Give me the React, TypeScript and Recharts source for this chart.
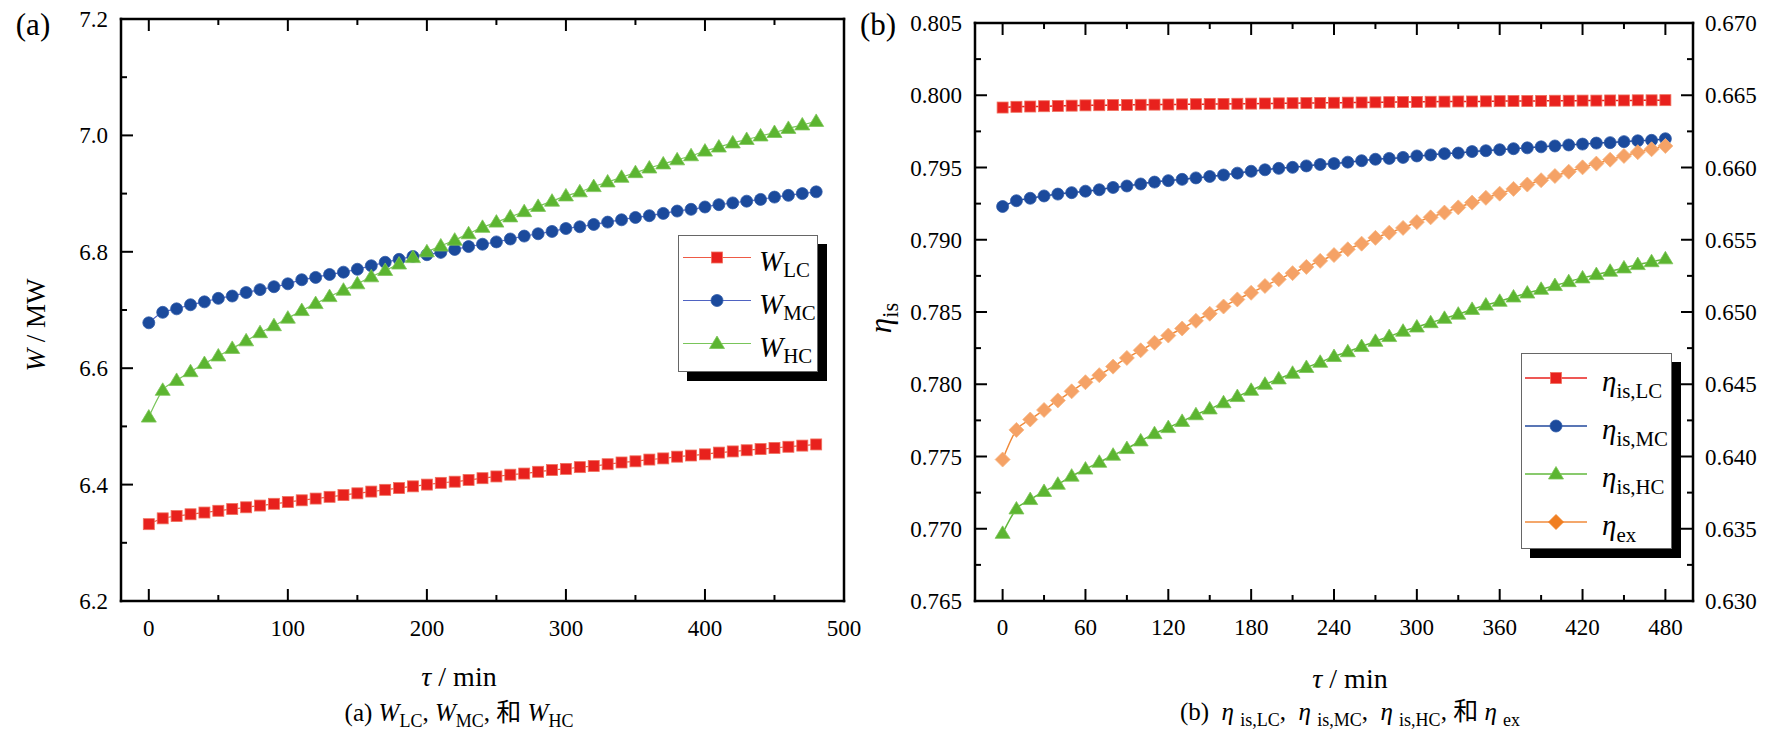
import React from "react";
import { LineChart, Line, XAxis, YAxis, Legend } from "recharts";

// time axis, minutes
const minutes = [
  0, 10, 20, 30, 40, 50, 60, 70, 80, 90, 100, 110, 120, 130, 140, 150, 160,
  170, 180, 190, 200, 210, 220, 230, 240, 250, 260, 270, 280, 290, 300, 310,
  320, 330, 340, 350, 360, 370, 380, 390, 400, 410, 420, 430, 440, 450, 460,
  470, 480,
];

// (a) compressor power, MW
const wLC = [
  6.332, 6.342, 6.346, 6.349, 6.352, 6.355, 6.358, 6.361, 6.364, 6.367, 6.37,
  6.373, 6.376, 6.379, 6.382, 6.385, 6.388, 6.391, 6.394, 6.397, 6.4, 6.403,
  6.405, 6.408, 6.411, 6.414, 6.417, 6.419, 6.422, 6.425, 6.427, 6.43, 6.432,
  6.435, 6.438, 6.44, 6.443, 6.445, 6.448, 6.45, 6.452, 6.455, 6.457, 6.459,
  6.461, 6.463, 6.465, 6.467, 6.469,
];
const wMC = [
  6.678, 6.696, 6.702, 6.709, 6.714, 6.72, 6.724, 6.73, 6.735, 6.74, 6.745,
  6.752, 6.756, 6.761, 6.765, 6.77, 6.776, 6.782, 6.787, 6.792, 6.795, 6.799,
  6.804, 6.809, 6.813, 6.817, 6.822, 6.827, 6.831, 6.835, 6.84, 6.843, 6.847,
  6.851, 6.855, 6.859, 6.862, 6.866, 6.87, 6.873, 6.877, 6.881, 6.884, 6.887,
  6.89, 6.894, 6.897, 6.9, 6.903,
];
const wHC = [
  6.516, 6.562, 6.579, 6.594, 6.608, 6.621, 6.634, 6.647, 6.661, 6.673, 6.686,
  6.699, 6.711, 6.723, 6.734, 6.745, 6.757, 6.768, 6.779, 6.79, 6.8, 6.81,
  6.82, 6.831, 6.842, 6.851, 6.86, 6.869, 6.878, 6.887, 6.896, 6.903, 6.912,
  6.92, 6.928, 6.936, 6.944, 6.951, 6.958, 6.965, 6.973, 6.98, 6.987, 6.993,
  6.999, 7.005, 7.012, 7.018, 7.024,
];

// (b) efficiencies
const etaLC = [
  0.79915, 0.7992, 0.79922, 0.79924, 0.79926, 0.79928, 0.7993, 0.79931,
  0.79932, 0.79933, 0.79934, 0.79935, 0.79936, 0.79937, 0.79938, 0.79939,
  0.7994, 0.79941, 0.79942, 0.79943, 0.79944, 0.79945, 0.79946, 0.79947,
  0.79948, 0.79949, 0.7995, 0.79951, 0.79952, 0.79953, 0.79954, 0.79955,
  0.79956, 0.79957, 0.79957, 0.79958, 0.79959, 0.7996, 0.7996, 0.79961,
  0.79962, 0.79962, 0.79963, 0.79963, 0.79964, 0.79964, 0.79965, 0.79965,
  0.79966,
];
const etaMC = [
  0.7923, 0.7927, 0.79287, 0.79303, 0.79316, 0.79326, 0.79336, 0.79346,
  0.79362, 0.79372, 0.79386, 0.79399, 0.79409, 0.79418, 0.79428, 0.79438,
  0.79448, 0.79461, 0.79474, 0.79484, 0.79494, 0.79501, 0.79511, 0.79521,
  0.79527, 0.79537, 0.79547, 0.79557, 0.79563, 0.7957, 0.7958, 0.79587,
  0.79596, 0.796, 0.7961, 0.79616, 0.79623, 0.7963, 0.79636, 0.79643, 0.79649,
  0.79656, 0.79662, 0.79669, 0.79672, 0.79679, 0.79685, 0.79688, 0.79699,
];
const etaHC = [
  0.76968, 0.77137, 0.77202, 0.77258, 0.77308, 0.77364, 0.77413, 0.7746,
  0.77509, 0.77555, 0.77608, 0.77658, 0.777, 0.77743, 0.77789, 0.77829,
  0.77872, 0.77915, 0.77958, 0.78, 0.78037, 0.78076, 0.78116, 0.78152,
  0.78192, 0.78225, 0.78261, 0.78297, 0.7833, 0.78367, 0.78396, 0.78426,
  0.78456, 0.78485, 0.78518, 0.78548, 0.78574, 0.78604, 0.78631, 0.78657,
  0.78683, 0.7871, 0.78736, 0.78759, 0.78782, 0.78805, 0.78828, 0.78848,
  0.78868,
];
// exergy efficiency, right axis
const etaEx = [
  0.63979, 0.64184, 0.64256, 0.64322, 0.64388, 0.64451, 0.64514, 0.64563,
  0.64622, 0.64682, 0.64735, 0.64787, 0.64837, 0.64886, 0.64939, 0.64988,
  0.65038, 0.65087, 0.65133, 0.6518, 0.65226, 0.65269, 0.65312, 0.65354,
  0.65394, 0.65434, 0.65473, 0.65513, 0.65549, 0.65582, 0.65622, 0.65655,
  0.65688, 0.65724, 0.65757, 0.6579, 0.65819, 0.65852, 0.65882, 0.65912,
  0.65941, 0.65971, 0.66001, 0.66027, 0.66054, 0.6608, 0.66106, 0.66126,
  0.66149,
];

// ticks (all) and labelled ticks
const aXTicks = [0, 50, 100, 150, 200, 250, 300, 350, 400, 450, 500];
const aXLabels = [0, 100, 200, 300, 400, 500];
const aYTicks = [6.2, 6.3, 6.4, 6.5, 6.6, 6.7, 6.8, 6.9, 7.0, 7.1, 7.2];
const aYLabels = [6.2, 6.4, 6.6, 6.8, 7.0, 7.2];
const bXTicks = [
  0, 30, 60, 90, 120, 150, 180, 210, 240, 270, 300, 330, 360, 390, 420, 450,
  480,
];
const bXLabels = [0, 60, 120, 180, 240, 300, 360, 420, 480];
const bYTicks = [
  0.765, 0.7675, 0.77, 0.7725, 0.775, 0.7775, 0.78, 0.7825, 0.785, 0.7875,
  0.79, 0.7925, 0.795, 0.7975, 0.8, 0.8025, 0.805,
];
const bYLabels = [0.765, 0.77, 0.775, 0.78, 0.785, 0.79, 0.795, 0.8, 0.805];
const bY2Ticks = [
  0.63, 0.6325, 0.635, 0.6375, 0.64, 0.6425, 0.645, 0.6475, 0.65, 0.6525,
  0.655, 0.6575, 0.66, 0.6625, 0.665, 0.6675, 0.67,
];
const bY2Labels = [0.63, 0.635, 0.64, 0.645, 0.65, 0.655, 0.66, 0.665, 0.67];

const dataA = minutes.map((t, i) => ({ t, lc: wLC[i], mc: wMC[i], hc: wHC[i] }));
const dataB = minutes.map((t, i) => ({
  t,
  lc: etaLC[i],
  mc: etaMC[i],
  hc: etaHC[i],
  ex: etaEx[i],
}));

const FONT = '"Liberation Serif", "Times New Roman", "Noto Sans CJK SC", serif';
const axisLine = { stroke: "#000", strokeWidth: 2.5, strokeLinecap: "square" as const };
const tickText = { fontFamily: FONT, fontSize: 23, fill: "#000" };

type Side = "bottom" | "top" | "left" | "right";

// tick mark drawn inward from the axis line; long for majors, label only when asked
function makeTick(side: Side, majors: number[], showLabels: boolean, fmt: (v: number) => string, gap: number) {
  return function Tick(props: any) {
    const { x, y, payload } = props;
    const v = payload.value;
    const major = majors.some((m) => Math.abs(m - v) < 1e-9);
    const len = major ? 12 : 6;
    const showText = showLabels && major;
    let line = null;
    let text = null;
    if (side === "bottom") {
      line = <line x1={x} x2={x} y1={y} y2={y - len} />;
      if (showText)
        text = (
          <text x={x} y={y + gap} dy="0.35em" textAnchor="middle" style={tickText}>
            {fmt(v)}
          </text>
        );
    } else if (side === "top") {
      line = <line x1={x} x2={x} y1={y} y2={y + len} />;
    } else if (side === "left") {
      line = <line x1={x} x2={x + len} y1={y} y2={y} />;
      if (showText)
        text = (
          <text x={x - gap} y={y} dy="0.35em" textAnchor="end" style={tickText}>
            {fmt(v)}
          </text>
        );
    } else {
      line = <line x1={x} x2={x - len} y1={y} y2={y} />;
      if (showText)
        text = (
          <text x={x + gap} y={y} dy="0.35em" textAnchor="start" style={tickText}>
            {fmt(v)}
          </text>
        );
    }
    return (
      <g>
        <g stroke="#000" strokeWidth={2}>{line}</g>
        {text}
      </g>
    );
  };
}

type Shape = "square" | "circle" | "triangle" | "diamond";

function Marker({ shape, cx, cy, fill, stroke }: { shape: Shape; cx: number; cy: number; fill: string; stroke: string }) {
  if (cx == null || cy == null) return null;
  if (shape === "square")
    return <rect x={cx - 5.5} y={cy - 5.5} width={11} height={11} fill={fill} stroke={stroke} strokeWidth={0.8} />;
  if (shape === "circle") return <circle cx={cx} cy={cy} r={6} fill={fill} stroke={stroke} strokeWidth={0.8} />;
  if (shape === "triangle")
    return (
      <polygon
        points={`${cx},${cy - 7.5} ${cx + 7.5},${cy + 5} ${cx - 7.5},${cy + 5}`}
        fill={fill}
        stroke={stroke}
        strokeWidth={0.8}
      />
    );
  return (
    <polygon
      points={`${cx},${cy - 7.5} ${cx + 7.5},${cy} ${cx},${cy + 7.5} ${cx - 7.5},${cy}`}
      fill={fill}
      stroke={stroke}
      strokeWidth={0.8}
    />
  );
}

const Sub = ({ children }: { children: React.ReactNode }) => (
  <span style={{ fontSize: "0.72em", position: "relative", top: "0.32em", fontStyle: "normal" }}>{children}</span>
);

const Eta = () => <i>η</i>;

type Series = {
  key: string;
  label: React.ReactNode;
  shape: Shape;
  fill: string;
  stroke: string;
  line: string;
  legendFill?: string;
};

const seriesA: Series[] = [
  { key: "lc", label: <><i>W</i><Sub>LC</Sub></>, shape: "square", fill: "#e8211d", stroke: "#f0705e", line: "#ee5a45" },
  { key: "mc", label: <><i>W</i><Sub>MC</Sub></>, shape: "circle", fill: "#1b4a9c", stroke: "#2f5aa8", line: "#4f63c2" },
  { key: "hc", label: <><i>W</i><Sub>HC</Sub></>, shape: "triangle", fill: "#5cb531", stroke: "#7cc557", line: "#79c55a" },
];

const seriesB: Series[] = [
  { key: "lc", label: <><Eta /><Sub>is,LC</Sub></>, shape: "square", fill: "#e8211d", stroke: "#f0705e", line: "#e8211d" },
  { key: "mc", label: <><Eta /><Sub>is,MC</Sub></>, shape: "circle", fill: "#1b4a9c", stroke: "#2f5aa8", line: "#22489c" },
  { key: "hc", label: <><Eta /><Sub>is,HC</Sub></>, shape: "triangle", fill: "#5cb531", stroke: "#7cc557", line: "#62b83c" },
  { key: "ex", label: <><Eta /><Sub>ex</Sub></>, shape: "diamond", fill: "#f5a266", stroke: "#f7b582", line: "#f08a3a", legendFill: "#f07f22" },
];

function LegendBox({
  items,
  width,
  rowH,
  lineX1,
  lineX2,
  markerX,
  textX,
  fontSize,
  lineW,
  padBottom,
}: {
  items: Series[];
  width: number;
  rowH: number;
  lineX1: number;
  lineX2: number;
  markerX: number;
  textX: number;
  fontSize: number;
  lineW: number;
  padBottom: number;
}) {
  return (
    <div
      style={{
        width,
        background: "#fff",
        border: "1px solid #666",
        boxShadow: "9px 9px 0 #000",
        fontFamily: FONT,
        paddingBottom: padBottom,
        boxSizing: "border-box",
      }}
    >
      {items.map((it) => (
        <div key={it.key} style={{ height: rowH, position: "relative" }}>
          <svg width={lineX2 + 10} height={rowH} style={{ position: "absolute", left: 0, top: 0 }}>
            <line x1={lineX1} x2={lineX2} y1={rowH / 2} y2={rowH / 2} stroke={it.line} strokeWidth={lineW} />
            <Marker shape={it.shape} cx={markerX} cy={rowH / 2} fill={it.legendFill ?? it.fill} stroke={it.legendFill ?? it.stroke} />
          </svg>
          <span
            style={{
              position: "absolute",
              left: textX,
              top: rowH / 2 + 3,
              transform: "translateY(-50%)",
              fontSize,
              whiteSpace: "nowrap",
              lineHeight: 1,
            }}
          >
            {it.label}
          </span>
        </div>
      ))}
    </div>
  );
}

const Txt = ({ x, y, size, children, rotate }: { x: number; y: number; size: number; children: React.ReactNode; rotate?: boolean }) => (
  <div
    style={{
      position: "absolute",
      left: x,
      top: y,
      transform: `translate(-50%, -50%)${rotate ? " rotate(-90deg)" : ""}`,
      fontFamily: FONT,
      fontSize: size,
      whiteSpace: "nowrap",
      lineHeight: 1,
      color: "#000",
    }}
  >
    {children}
  </div>
);

// the four axes of one frame; data axes are id 0, mirror axes carry no labels
function frameAxes(
  xDomain: [number, number],
  xTicks: number[],
  xLabels: number[],
  yDomain: [number, number],
  yTicks: number[],
  yLabels: number[],
  yFmt: (v: number) => string,
  right: { domain: [number, number]; ticks: number[]; labels: number[]; show: boolean; fmt: (v: number) => string },
  xGap: number,
) {
  const common = { interval: 0 as const, tickSize: 0, tickMargin: 0, tickLine: false, axisLine, type: "number" as const };
  return [
    <XAxis key="xb" {...common} dataKey="t" domain={xDomain} ticks={xTicks} height={1}
      tick={makeTick("bottom", xLabels, true, (v) => String(v), xGap)} />,
    <XAxis key="xt" {...common} xAxisId="top" orientation="top" dataKey="t" domain={xDomain} ticks={xTicks} height={1}
      tick={makeTick("top", xLabels, false, (v) => String(v), 0)} />,
    <YAxis key="yl" {...common} domain={yDomain} ticks={yTicks} width={1}
      tick={makeTick("left", yLabels, true, yFmt, 13)} />,
    <YAxis key="yr" {...common} yAxisId="right" orientation="right" domain={right.domain} ticks={right.ticks} width={1}
      tick={makeTick("right", right.labels, right.show, right.fmt, 12)} />,
  ];
}

function ChartA() {
  return (
    <LineChart width={880} height={748} data={dataA} margin={{ top: 18, left: 120, right: 35, bottom: 146 }}>
      {frameAxes([-20, 500], aXTicks, aXLabels, [6.2, 7.2], aYTicks, aYLabels, (v) => v.toFixed(1),
        { domain: [6.2, 7.2], ticks: aYTicks, labels: aYLabels, show: false, fmt: (v) => v.toFixed(1) }, 27)}
      {seriesA.map((s) => (
        <Line
          key={s.key}
          type="monotone"
          dataKey={s.key}
          stroke={s.line}
          strokeWidth={1.2}
          isAnimationActive={false}
          activeDot={false}
          dot={(p: any) => <Marker key={p.index} shape={s.shape} cx={p.cx} cy={p.cy} fill={s.fill} stroke={s.stroke} />}
        />
      ))}
      <Legend
        layout="vertical"
        align="center"
        verticalAlign="middle"
        wrapperStyle={{ left: 678, top: 235, width: "auto", height: "auto" }}
        content={() => (
          <LegendBox
            items={seriesA}
            width={140}
            rowH={43}
            lineX1={4}
            lineX2={72}
            markerX={38}
            textX={80}
            fontSize={29}
            lineW={1.2}
            padBottom={6}
          />
        )}
      />
    </LineChart>
  );
}

function ChartB() {
  return (
    <LineChart width={892} height={748} data={dataB} margin={{ top: 22, left: 94, right: 78, bottom: 146 }}>
      {frameAxes([-20, 500], bXTicks, bXLabels, [0.765, 0.805], bYTicks, bYLabels, (v) => v.toFixed(3),
        { domain: [0.63, 0.67], ticks: bY2Ticks, labels: bY2Labels, show: true, fmt: (v) => v.toFixed(3) }, 26)}
      {seriesB.map((s) => (
        <Line
          key={s.key}
          type="monotone"
          dataKey={s.key}
          yAxisId={s.key === "ex" ? "right" : 0}
          stroke={s.line}
          strokeWidth={1.5}
          isAnimationActive={false}
          activeDot={false}
          dot={(p: any) => <Marker key={p.index} shape={s.shape} cx={p.cx} cy={p.cy} fill={s.fill} stroke={s.stroke} />}
        />
      ))}
      <Legend
        layout="vertical"
        align="center"
        verticalAlign="middle"
        wrapperStyle={{ left: 641, top: 353, width: "auto", height: "auto" }}
        content={() => (
          <LegendBox
            items={seriesB}
            width={151}
            rowH={48}
            lineX1={3}
            lineX2={65}
            markerX={34}
            textX={80}
            fontSize={29}
            lineW={1.5}
            padBottom={2}
          />
        )}
      />
    </LineChart>
  );
}

export default function App() {
  return (
    <div style={{ position: "absolute", left: 0, top: 0, width: 1772, height: 748, background: "#fff", overflow: "hidden" }}>
      <div style={{ position: "absolute", left: 0, top: 0 }}>
        <ChartA />
      </div>
      <div style={{ position: "absolute", left: 880, top: 0 }}>
        <ChartB />
      </div>

      <Txt x={33} y={24} size={31}>(a)</Txt>
      <Txt x={878} y={24} size={31}>(b)</Txt>

      <Txt x={36} y={325} size={27} rotate>
        <i>W</i> / MW
      </Txt>
      <Txt x={880} y={318} size={31} rotate>
        <Eta />
        <Sub>is</Sub>
      </Txt>

      <Txt x={459} y={677} size={28}>
        <i>τ</i> / min
      </Txt>
      <Txt x={1350} y={679} size={28}>
        <i>τ</i> / min
      </Txt>

      <Txt x={459} y={712} size={25}>
        (a) <i>W</i>
        <Sub>LC</Sub>, <i>W</i>
        <Sub>MC</Sub>, 和 <i>W</i>
        <Sub>HC</Sub>
      </Txt>
      <Txt x={1350} y={711} size={25}>
        (b)&nbsp; <Eta /> <Sub>is,LC</Sub>, &nbsp;<Eta /> <Sub>is,MC</Sub>, &nbsp;<Eta /> <Sub>is,HC</Sub>, 和 <Eta /> <Sub>ex</Sub>
      </Txt>
    </div>
  );
}
